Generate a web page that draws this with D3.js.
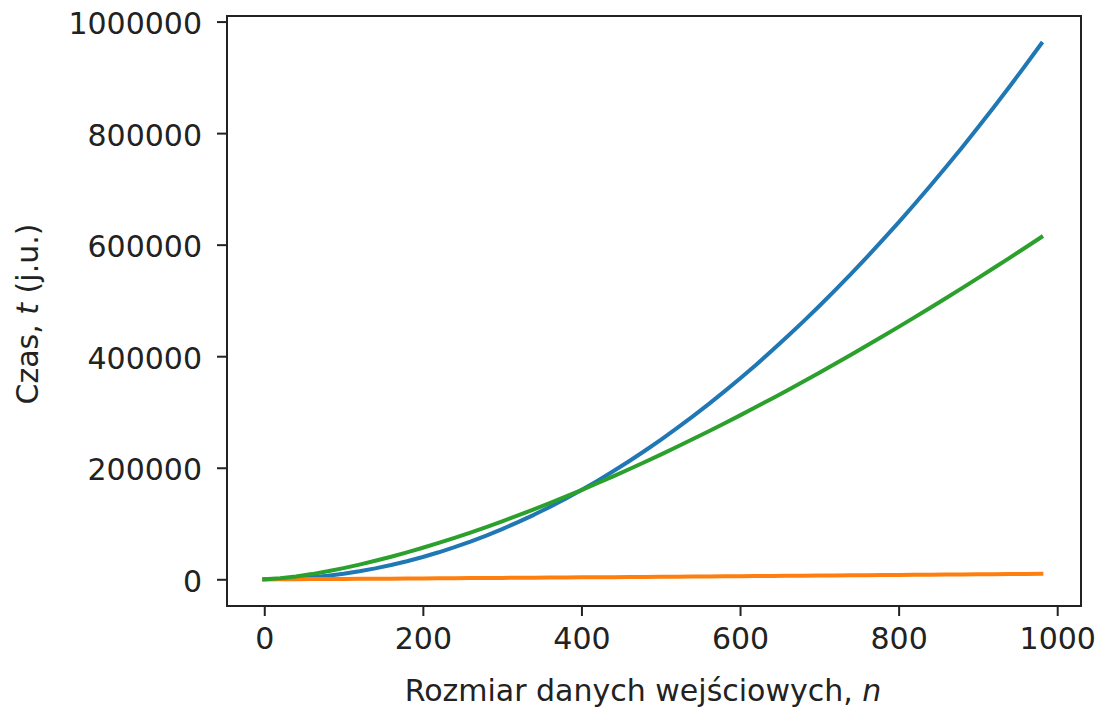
<!DOCTYPE html>
<html>
<head>
<meta charset="utf-8">
<script src="https://d3js.org/d3.v7.min.js"></script>
<style>
  body { margin: 0; background: #fff; }
  svg text { font-family: 'DejaVu Sans', sans-serif; fill: #222; }
</style>
</head>
<body>
<div id="chart"></div>
<script>
// input sizes n
var sizes = [0, 20, 40, 60, 80, 100, 120, 140, 160, 180, 200, 220, 240, 260, 280, 300,
  320, 340, 360, 380, 400, 420, 440, 460, 480, 500, 520, 540, 560, 580, 600, 620, 640,
  660, 680, 700, 720, 740, 760, 780, 800, 820, 840, 860, 880, 900, 920, 940, 960, 980];

// blue series
var blueTimes = [0, 400, 1600, 3600, 6400, 10000, 14400, 19600, 25600, 32400, 40000,
  48400, 57600, 67600, 78400, 90000, 102400, 115600, 129600, 144400, 160000, 176400,
  193600, 211600, 230400, 250000, 270400, 291600, 313600, 336400, 360000, 384400,
  409600, 435600, 462400, 490000, 518400, 547600, 577600, 608400, 640000, 672400,
  705600, 739600, 774400, 810000, 846400, 883600, 921600, 960400];

// orange series
var orangeTimes = [0, 86, 213, 354, 506, 664, 829, 998, 1172, 1349, 1529, 1712, 1898,
  2086, 2277, 2469, 2663, 2860, 3058, 3257, 3458, 3661, 3865, 4070, 4277, 4483, 4692,
  4901, 5111, 5322, 5537, 5750, 5966, 6181, 6398, 6617, 6834, 7053, 7274, 7494, 7715,
  7937, 8160, 8384, 8608, 8833, 9058, 9285, 9512, 9740];

// green series
var greenTimes = [0, 1789, 5060, 9295, 14311, 20000, 26290, 33130, 40477, 48298, 56569,
  65262, 74360, 83848, 93706, 103923, 114487, 125388, 136616, 148152, 160000, 172148,
  184590, 197318, 210327, 223607, 237154, 250968, 265040, 279370, 293939, 308760,
  323816, 339112, 354648, 370405, 386394, 402600, 419032, 435682, 452548, 469620,
  486906, 504402, 522100, 540000, 558094, 576390, 594884, 613570];

var xTicks = [0, 200, 400, 600, 800, 1000];
var yTicks = [0, 200000, 400000, 600000, 800000, 1000000];

var width = 1097, height = 709;
var margin = { left: 227, right: 16, top: 16, bottom: 103 };
var fontSize = 30;

var svg = d3.select("#chart").append("svg")
  .attr("width", width)
  .attr("height", height);

var x = d3.scaleLinear()
  .domain([-47, 1030])
  .range([margin.left, width - margin.right]);
var y = d3.scaleLinear()
  .domain([-47900, 1010000])
  .range([height - margin.bottom, margin.top]);

// lines (drawn in the same order as the original)
var series = [
  { vals: blueTimes, color: "#1f77b4" },
  { vals: orangeTimes, color: "#ff7f0e" },
  { vals: greenTimes, color: "#2ca02c" }
];
var line = d3.line()
  .x(function (d) { return x(d[0]); })
  .y(function (d) { return y(d[1]); });

var plot = svg.append("g");
series.forEach(function (s) {
  plot.append("path")
    .datum(sizes.map(function (n, i) { return [n, s.vals[i]]; }))
    .attr("d", line)
    .attr("fill", "none")
    .attr("stroke", s.color)
    .attr("stroke-width", 4)
    .attr("stroke-linejoin", "round")
    .attr("stroke-linecap", "square");
});

// axes
var xAxis = d3.axisBottom(x).tickValues(xTicks).tickSize(10).tickPadding(12)
  .tickFormat(d3.format("d"));
var yAxis = d3.axisLeft(y).tickValues(yTicks).tickSize(10).tickPadding(15)
  .tickFormat(d3.format("d"));

var gx = svg.append("g")
  .attr("transform", "translate(0," + (height - margin.bottom) + ")")
  .call(xAxis);
var gy = svg.append("g")
  .attr("transform", "translate(" + margin.left + ",0)")
  .call(yAxis);

[gx, gy].forEach(function (g) {
  g.select(".domain").remove();
  g.selectAll(".tick line").attr("stroke", "#222").attr("stroke-width", 2);
  g.selectAll(".tick text")
    .style("font-size", fontSize + "px")
    .attr("fill", "#222");
});
gy.selectAll(".tick text").attr("dy", "0.4em");

// frame
svg.append("rect")
  .attr("x", margin.left)
  .attr("y", margin.top)
  .attr("width", width - margin.left - margin.right)
  .attr("height", height - margin.top - margin.bottom)
  .attr("fill", "none")
  .attr("stroke", "#222")
  .attr("stroke-width", 2);

// axis titles
var xTitle = svg.append("text")
  .attr("x", 643)
  .attr("y", 701)
  .attr("text-anchor", "middle")
  .style("font-size", fontSize + "px");
xTitle.append("tspan").text("Rozmiar danych wejściowych, ");
xTitle.append("tspan").style("font-style", "italic").text("n");

var yTitle = svg.append("text")
  .attr("transform", "translate(38," + 314 + ") rotate(-90)")
  .attr("text-anchor", "middle")
  .style("font-size", fontSize + "px");
yTitle.append("tspan").text("Czas, ");
yTitle.append("tspan").style("font-style", "italic").text("t");
yTitle.append("tspan").text(" (j.u.)");
</script>
</body>
</html>
